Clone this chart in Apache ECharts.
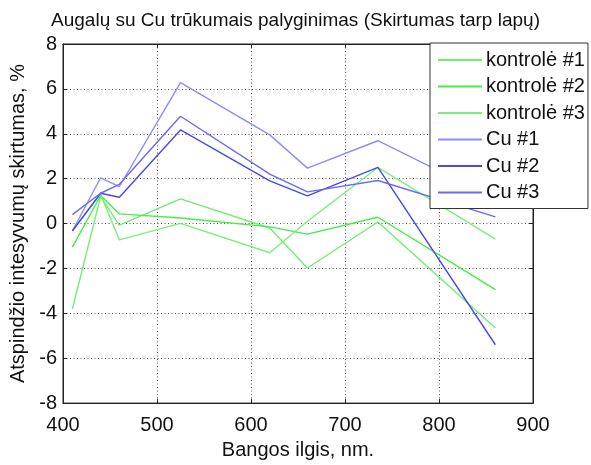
<!DOCTYPE html>
<html>
<head>
<meta charset="utf-8">
<script src="https://cdn.jsdelivr.net/npm/echarts@6/dist/echarts.min.js"></script>
<style>
  html, body { margin: 0; padding: 0; background: #fff; }
  #chart { width: 591px; height: 465px; }
</style>
</head>
<body>
<div id="chart"></div>
<script>
// Wavelengths (nm) where the reflectance differences were measured
const wavelengths = [410, 440, 460, 525, 620, 660, 735, 860];

// Difference between leaves, %
const kontrole1 = [-3.8, 1.2, -0.07, 1.10, -0.2, -1.98, 0.07, -4.65];
const kontrole2 = [-1.05, 1.25, 0.43, 0.25, -0.15, -0.47, 0.28, -2.94];
const kontrole3 = [-0.3, 1.3, -0.73, 0.01, -1.3, 0.1, 2.5, -0.69];
const cu1 = [-0.33, 2.04, 1.65, 6.28, 3.95, 2.47, 3.69, 1.1];
const cu2 = [-0.33, 1.35, 1.17, 4.17, 1.9, 1.23, 2.5, -5.4];
const cu3 = [0.40, 1.35, 1.75, 4.78, 2.2, 1.41, 1.92, 0.3];

const seriesNames = ['kontrolė #1', 'kontrolė #2', 'kontrolė #3', 'Cu #1', 'Cu #2', 'Cu #3'];
const seriesValues = [kontrole1, kontrole2, kontrole3, cu1, cu2, cu3];
const seriesColors = ['#70ee70', '#44ee44', '#7aee7a', '#8c8cff', '#4848f0', '#6a6af4'];

const xTicks = { min: 400, max: 900, interval: 100 };
const yTicks = { min: -8, max: 8, interval: 2 };

const font = 'Liberation Sans, Arial, sans-serif';

const chart = echarts.init(document.getElementById('chart'), null, { renderer: 'canvas' });

const gridLine = { show: true, lineStyle: { color: '#555', type: [1, 2.5], width: 1 } };
const tickIn = { show: true, inside: true, length: 4, lineStyle: { color: '#222' } };
const frameLine = { show: true, onZero: false, lineStyle: { color: '#222' } };

chart.setOption({
  animation: false,
  backgroundColor: '#fff',
  title: {
    text: 'Augalų su Cu trūkumais palyginimas (Skirtumas tarp lapų)',
    left: 'center', top: 6,
    textStyle: { fontFamily: font, fontSize: 19, fontWeight: 'normal', color: '#111' }
  },
  grid: { left: 60, right: 58, top: 44, bottom: 53, show: true, borderColor: '#222', borderWidth: 1 },
  legend: {
    orient: 'vertical',
    left: 430, top: 43,
    data: seriesNames,
    icon: 'rect',
    itemWidth: 44, itemHeight: 2, itemGap: 6.5,
    backgroundColor: '#fff',
    borderColor: '#333', borderWidth: 1,
    padding: [7, 3, 6, 8],
    textStyle: { fontFamily: font, fontSize: 20, color: '#111', padding: [0, 0, 0, -1] }
  },
  xAxis: [{
    type: 'value', min: xTicks.min, max: xTicks.max, interval: xTicks.interval,
    name: 'Bangos ilgis, nm.', nameLocation: 'middle', nameGap: 36,
    nameTextStyle: { fontFamily: font, fontSize: 20, color: '#111' },
    axisLine: frameLine,
    axisTick: tickIn,
    axisLabel: { fontFamily: font, fontSize: 20, color: '#111', margin: 12 },
    splitLine: gridLine
  }, {
    type: 'value', position: 'top', min: xTicks.min, max: xTicks.max, interval: xTicks.interval,
    axisLine: frameLine,
    axisTick: tickIn, axisLabel: { show: false }, splitLine: { show: false }
  }],
  yAxis: [{
    type: 'value', min: yTicks.min, max: yTicks.max, interval: yTicks.interval,
    name: 'Atspindžio intesyvumų skirtumas, %', nameLocation: 'middle', nameGap: 35,
    nameTextStyle: { fontFamily: font, fontSize: 20, color: '#111' },
    axisLine: frameLine,
    axisTick: tickIn,
    axisLabel: { fontFamily: font, fontSize: 20, color: '#111', margin: 6 },
    splitLine: gridLine
  }, {
    type: 'value', position: 'right', min: yTicks.min, max: yTicks.max, interval: yTicks.interval,
    axisLine: frameLine,
    axisTick: tickIn, axisLabel: { show: false }, splitLine: { show: false }
  }],
  series: seriesNames.map((name, i) => ({
    name: name,
    type: 'line',
    xAxisIndex: 0, yAxisIndex: 0,
    symbol: 'none',
    data: wavelengths.map((w, j) => [w, seriesValues[i][j]]),
    lineStyle: { color: seriesColors[i], width: 1.4 },
    itemStyle: { color: seriesColors[i] }
  }))
});
</script>
</body>
</html>
